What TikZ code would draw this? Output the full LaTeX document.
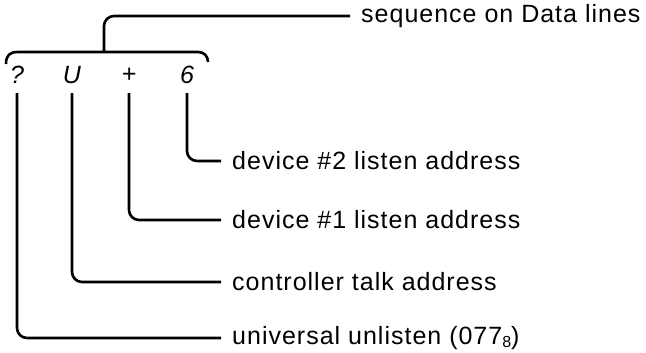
\documentclass[tikz,border=0pt]{standalone}
\usepackage{fontspec}
\setmainfont{Liberation Sans}[LetterSpace=4]
\usetikzlibrary{positioning}

\begin{document}
\begin{tikzpicture}[x=1pt, y=-1pt,
    conn/.style={line width=2.6pt, rounded corners=10pt},
    chr/.style={inner sep=0pt, minimum height=36pt, font=\fontsize{25}{29}\selectfont\itshape},
    lbl/.style={anchor=west, inner xsep=11pt, inner ysep=0pt, font=\fontsize{25}{29}\selectfont}
  ]
  \useasboundingbox (0,0) rectangle (646,353);

  % characters sent on the bus
  \node[chr] (cq) at (17,75) {?};
  \node[chr] (cu) at (72,75) {U};
  \node[chr] (cp) at (129,75) {+};
  \node[chr] (c6) at (187,75) {6};

  % labels
  \node[lbl] (seq) at (350,16) {sequence on Data lines};
  \node[lbl] (dev2) at (221,161) {device \#2 listen address};
  \node[lbl] (dev1) at (221,220) {device \#1 listen address};
  \node[lbl] (ctl) at (221,282) {controller talk address};
  \node[lbl] (unl) at (221,338) {universal unlisten (077\raisebox{-0.14em}{\fontsize{16}{16}\selectfont 8})};

  % brace over the characters
  \coordinate (braceL) at (6,64);
  \coordinate (braceR) at (208,62);
  \coordinate (stem) at (104,52);
  \draw[line width=2.6pt] (braceL) .. controls (6,55) and (10,52) .. (18,52) -- (198,52)
    .. controls (204,52) and (208,56) .. (braceR);
  \draw[conn] (stem) |- (seq.west);

  % one line per character
  \draw[conn] (c6.south) |- (dev2.west);
  \draw[conn] (cp.south) |- (dev1.west);
  \draw[conn] (cu.south) |- (ctl.west);
  \draw[conn] (cq.south) |- (unl.west);
\end{tikzpicture}
\end{document}
